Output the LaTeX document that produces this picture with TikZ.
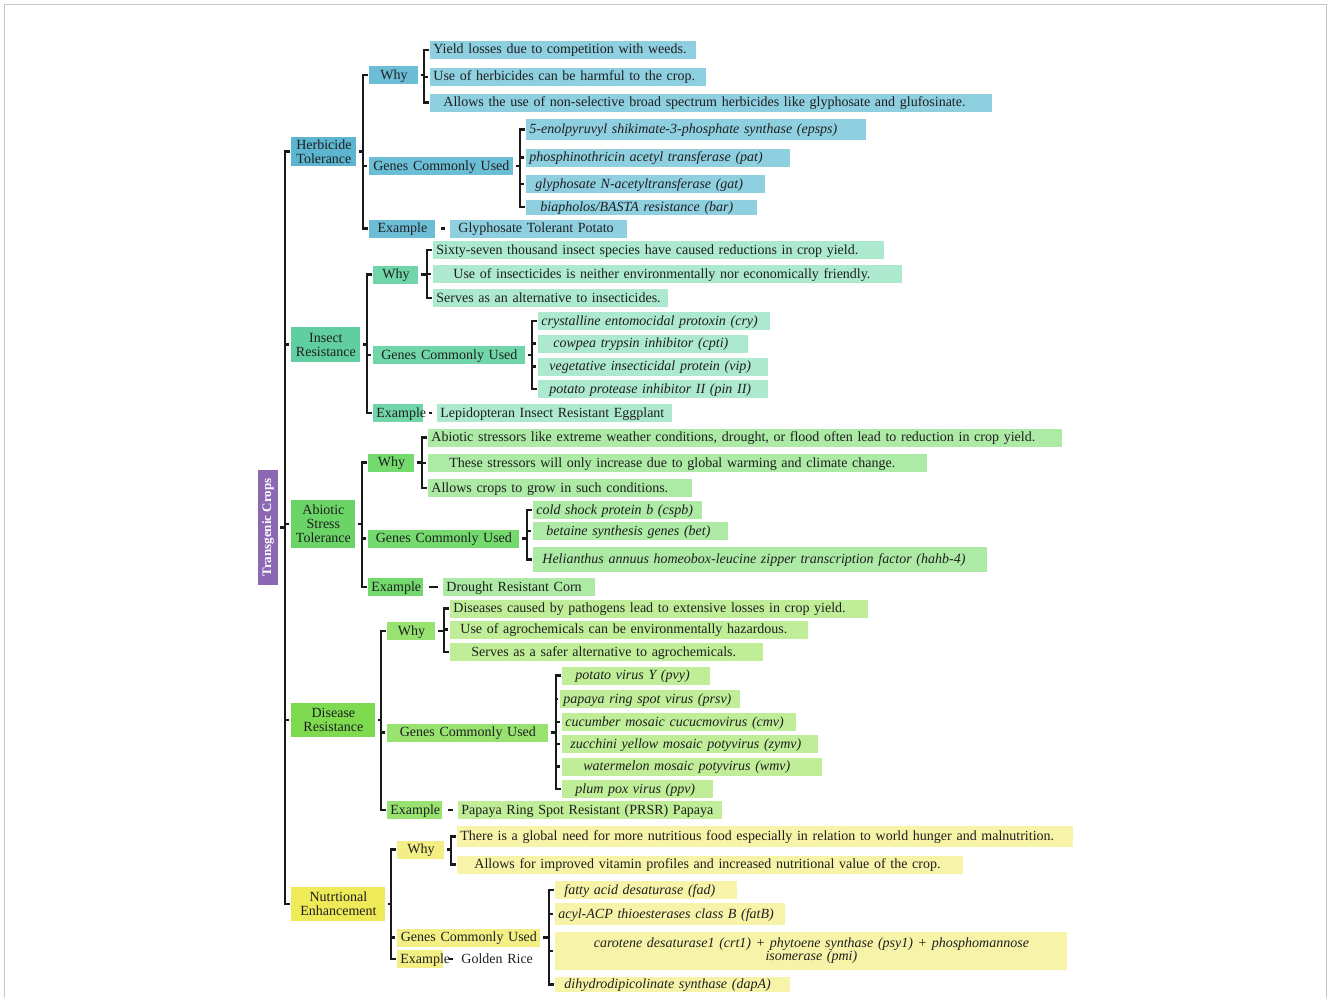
\documentclass[tikz,border=0pt]{standalone}
\usepackage{fontspec}
\setmainfont{Liberation Serif}
\usepackage{tikz}

\definecolor{rootC}{RGB}{140,104,178}
\definecolor{hC}{RGB}{92,182,207}
\definecolor{hM}{RGB}{108,190,214}
\definecolor{hL}{RGB}{142,207,224}
\definecolor{iC}{RGB}{96,206,160}
\definecolor{iM}{RGB}{112,214,170}
\definecolor{iL}{RGB}{172,233,207}
\definecolor{aC}{RGB}{106,213,102}
\definecolor{aM}{RGB}{116,218,110}
\definecolor{aL}{RGB}{172,234,166}
\definecolor{dC}{RGB}{126,219,80}
\definecolor{dM}{RGB}{152,226,112}
\definecolor{dL}{RGB}{192,238,152}
\definecolor{nC}{RGB}{238,234,88}
\definecolor{nM}{RGB}{243,239,132}
\definecolor{nL}{RGB}{247,243,168}

% bracket: parent point, first child, last child, middle children
\newcommand{\brkt}[4]{%
  \draw[brk,shorten <=1pt] (#2.west) -- ++(-6,0) coordinate (bt) |- ([xshift=-1pt]#3.west);
  \draw[brk,shorten <=2pt] (#1) -- (#1 -| bt);
  \foreach \c in {#4} {\draw[brk,shorten <=2pt] (\c.west) -- (\c.west -| bt);}
}

\begin{document}
\begin{tikzpicture}[x=1pt,y=-1pt,thick]
		\tikzstyle{bx}=[anchor=west,inner xsep=3pt,inner ysep=0pt,text=black!88]
		\tikzstyle{itm}=[bx,align=left,minimum height=18pt,text height=11pt,text depth=3pt,font=\fontsize{14}{14}\selectfont]
		\tikzstyle{gn}=[itm,font=\fontsize{14}{14}\selectfont\itshape]
		\tikzstyle{mid}=[itm,align=center]
		\tikzstyle{cat}=[bx,align=center,font=\fontsize{14}{14}\selectfont]
		\tikzstyle{brk}=[line width=2.2pt,black!90]
		\tikzstyle{dsh}=[brk,shorten >=5pt,shorten <=5pt]
		
		\useasboundingbox (0,0) rectangle (1328,998);
		\draw[gray!45,line width=1.3pt] (4.5,998) -- (4.5,4.5) -- (1326.5,4.5) -- (1326.5,998);
		
		\node[rotate=90,fill=rootC,text=white,inner sep=0pt,minimum width=115pt,minimum height=20pt,font=\fontsize{13}{14}\selectfont\bfseries] (tc) at (268,527.5) {Transgenic Crops};
		
		% Herbicide Tolerance
		\node[cat,fill=hC,text width=59pt,minimum height=29pt] (h) at (291,151.5) {Herbicide\\Tolerance};
		\node[mid,fill=hM,text width=43pt] (h_why) at (369,75) {Why};
		\node[itm,fill=hL,text width=260pt] (h_w1) at (430,50) {Yield losses due to competition with weeds.};
		\node[itm,fill=hL,text width=270pt] (h_w2) at (430,77) {Use of herbicides can be harmful to the crop.};
		\node[itm,fill=hL,text width=556pt] (h_w3) at (430,102.5) {\hspace*{10pt}Allows the use of non-selective broad spectrum herbicides like glyphosate and glufosinate.};
		\node[mid,fill=hM,text width=138pt] (h_gen) at (369,166) {Genes Commonly Used};
		\node[gn,fill=hL,text width=334pt,minimum height=21pt] (h_g1) at (526,129.5) {5-enolpyruvyl shikimate-3-phosphate synthase (epsps)};
		\node[gn,fill=hL,text width=258pt] (h_g2) at (526,157.5) {phosphinothricin acetyl transferase (pat)};
		\node[gn,fill=hL,text width=233pt] (h_g3) at (526,184) {\hspace*{6pt}glyphosate N-acetyltransferase (gat)};
		\node[gn,fill=hL,text width=225pt,minimum height=15pt] (h_g4) at (526,207) {\hspace*{11pt}biapholos/BASTA resistance (bar)};
		\node[mid,fill=hM,text width=60pt] (h_ex) at (369,228.5) {Example};
		\node[itm,fill=hL,text width=171pt] (h_e1) at (450,228.5) {\hspace*{5pt}Glyphosate Tolerant Potato};
		
		% Insect Resistance
		\node[cat,fill=iC,text width=63pt,minimum height=35pt] (i) at (291,344.5) {Insect\\Resistance};
		\node[mid,fill=iM,text width=39pt] (i_why) at (373,274.5) {Why};
		\node[itm,fill=iL,text width=445pt] (i_w1) at (433,250) {Sixty-seven thousand insect species have caused reductions in crop yield.};
		\node[itm,fill=iL,text width=463pt] (i_w2) at (433,274) {\hspace*{17pt}Use of insecticides is neither environmentally nor economically friendly.};
		\node[itm,fill=iL,text width=229pt] (i_w3) at (433,298) {Serves as an alternative to insecticides.};
		\node[mid,fill=iM,text width=146pt] (i_gen) at (373,355) {Genes Commonly Used};
		\node[gn,fill=iL,text width=226pt] (i_g1) at (538,321) {crystalline entomocidal protoxin (cry)};
		\node[gn,fill=iL,text width=204pt] (i_g2) at (538,343.5) {\hspace*{12pt}cowpea trypsin inhibitor (cpti)};
		\node[gn,fill=iL,text width=224pt] (i_g3) at (538,366.5) {\hspace*{8pt}vegetative insecticidal protein (vip)};
		\node[gn,fill=iL,text width=224pt] (i_g4) at (538,389) {\hspace*{8pt}potato protease inhibitor II (pin II)};
		\node[mid,fill=iM,text width=44pt] (i_ex) at (373,413) {Example};
		\node[itm,fill=iL,text width=229pt] (i_e1) at (437,413) {Lepidopteran Insect Resistant Eggplant};
		
		% Abiotic Stress Tolerance
		\node[cat,fill=aC,text width=58pt,minimum height=48pt] (a) at (291,524) {Abiotic\\Stress\\Tolerance};
		\node[mid,fill=aM,text width=40pt] (a_why) at (368,462.5) {Why};
		\node[itm,fill=aL,text width=628pt] (a_w1) at (428,437.5) {Abiotic stressors like extreme weather conditions, drought, or flood often lead to reduction in crop yield.};
		\node[itm,fill=aL,text width=493pt] (a_w2) at (428,463) {\hspace*{18pt}These stressors will only increase due to global warming and climate change.};
		\node[itm,fill=aL,text width=258pt] (a_w3) at (428,488) {Allows crops to grow in such conditions.};
		\node[mid,fill=aM,text width=145pt] (a_gen) at (368,538.5) {Genes Commonly Used};
		\node[gn,fill=aL,text width=163pt] (a_g1) at (533,510) {cold shock protein b (cspb)};
		\node[gn,fill=aL,text width=189pt] (a_g2) at (533,531) {\hspace*{10pt}betaine synthesis genes (bet)};
		\node[gn,fill=aL,text width=448pt,minimum height=25pt] (a_g3) at (533,559.5) {\hspace*{6pt}Helianthus annuus homeobox-leucine zipper transcription factor (hahb-4)};
		\node[mid,fill=aM,text width=49pt] (a_ex) at (368,587) {Example};
		\node[itm,fill=aL,text width=146pt] (a_e1) at (443,587) {Drought Resistant Corn};
		
		% Disease Resistance
		\node[cat,fill=dC,text width=78pt,minimum height=34pt] (d) at (291,720) {Disease\\Resistance};
		\node[mid,fill=dM,text width=42pt] (d_why) at (387,631) {Why};
		\node[itm,fill=dL,text width=412pt] (d_w1) at (450,608.5) {Diseases caused by pathogens lead to extensive losses in crop yield.};
		\node[itm,fill=dL,text width=352pt] (d_w2) at (450,629.5) {\hspace*{7pt}Use of agrochemicals can be environmentally hazardous.};
		\node[itm,fill=dL,text width=307pt] (d_w3) at (450,652) {\hspace*{18pt}Serves as a safer alternative to agrochemicals.};
		\node[mid,fill=dM,text width=155pt] (d_gen) at (387,732.5) {Genes Commonly Used};
		\node[gn,fill=dL,text width=142pt] (d_g1) at (562,675.5) {\hspace*{10pt}potato virus Y (pvy)};
		\node[gn,fill=dL,text width=174pt] (d_g2) at (560,699) {papaya ring spot virus (prsv)};
		\node[gn,fill=dL,text width=228pt] (d_g3) at (562,722) {cucumber mosaic cucucmovirus (cmv)};
		\node[gn,fill=dL,text width=250pt] (d_g4) at (562,744) {\hspace*{5pt}zucchini yellow mosaic potyvirus (zymv)};
		\node[gn,fill=dL,text width=254pt] (d_g5) at (562,766.5) {\hspace*{18pt}watermelon mosaic potyvirus (wmv)};
		\node[gn,fill=dL,text width=145pt] (d_g6) at (562,789) {\hspace*{10pt}plum pox virus (ppv)};
		\node[mid,fill=dM,text width=49pt] (d_ex) at (387,810) {Example};
		\node[itm,fill=dL,text width=258pt] (d_e1) at (458,810) {Papaya Ring Spot Resistant (PRSR) Papaya};
		
		% Nutritional Enhancement
		\node[cat,fill=nC,text width=88pt,minimum height=34pt] (n) at (291,904) {Nutrtional\\Enhancement};
		\node[mid,fill=nM,text width=41pt] (n_why) at (397,849.5) {Why};
		\node[itm,fill=nL,text width=610pt,minimum height=21pt] (n_w1) at (457,836.5) {There is a global need for more nutritious food especially in relation to world hunger and malnutrition.};
		\node[itm,fill=nL,text width=500pt] (n_w2) at (457,864.5) {\hspace*{14pt}Allows for improved vitamin profiles and increased nutritional value of the crop.};
		\node[mid,fill=nM,text width=137pt] (n_gen) at (397,937.5) {Genes Commonly Used};
		\node[gn,fill=nL,text width=176pt] (n_g1) at (555,890) {\hspace*{6pt}fatty acid desaturase (fad)};
		\node[gn,fill=nL,text width=224pt,minimum height=22pt] (n_g2) at (555,914) {acyl-ACP thioesterases class B (fatB)};
		\node[bx,fill=nL,text width=506pt,minimum height=38pt,align=center,font=\fontsize{14}{13}\selectfont\itshape] (n_g3) at (555,951) {carotene desaturase1 (crt1) + phytoene synthase (psy1) + phosphomannose\\isomerase (pmi)};
		\node[gn,fill=nL,text width=229pt,minimum height=15pt] (n_g4) at (555,984.5) {\hspace*{6pt}dihydrodipicolinate synthase (dapA)};
		\node[mid,fill=nM,text width=40pt] (n_ex) at (397,959) {Example};
		\node[itm,text width=76pt] (n_e1) at (458,959) {Golden Rice};
		
		% brackets
		\brkt{tc.south}{h}{n}{i,a,d}
		\brkt{h.east}{h_why}{h_ex}{h_gen}
		\brkt{h_why.east}{h_w1}{h_w3}{h_w2}
		\brkt{h_gen.east}{h_g1}{h_g4}{h_g2,h_g3}
		\brkt{i.east}{i_why}{i_ex}{i_gen}
		\brkt{i_why.east}{i_w1}{i_w3}{i_w2}
		\brkt{i_gen.east}{i_g1}{i_g4}{i_g2,i_g3}
		\brkt{a.east}{a_why}{a_ex}{a_gen}
		\brkt{a_why.east}{a_w1}{a_w3}{a_w2}
		\brkt{a_gen.east}{a_g1}{a_g3}{a_g2}
		\brkt{d.east}{d_why}{d_ex}{d_gen}
		\brkt{d_why.east}{d_w1}{d_w3}{d_w2}
		\brkt{d_gen.east}{d_g1}{d_g6}{d_g2,d_g3,d_g4,d_g5}
		\brkt{n.east}{n_why}{n_ex}{n_gen}
		\brkt{n_why.east}{n_w1}{n_w2}{n_w1}
		\brkt{n_gen.east}{n_g1}{n_g4}{n_g2,n_g3}
		
		\draw[dsh] (h_ex.east) -- (h_e1.west);
		\draw[dsh] (i_ex.east) -- (i_e1.west);
		\draw[dsh] (a_ex.east) -- (a_e1.west);
		\draw[dsh] (d_ex.east) -- (d_e1.west);
		\draw[dsh] (n_ex.east) -- (n_e1.west);
		
	\end{tikzpicture}
\end{document}
